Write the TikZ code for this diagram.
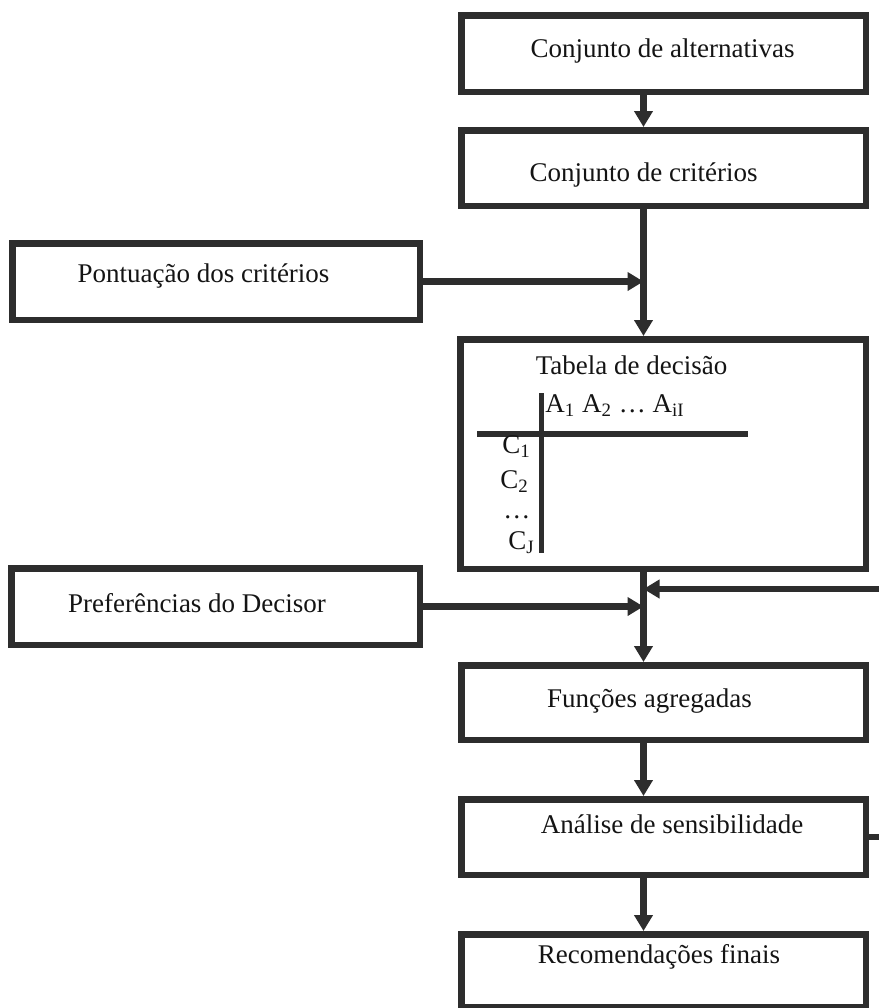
\documentclass[tikz,border=0pt]{standalone}
\usepackage{fontspec}
\setmainfont{Liberation Serif}
\usetikzlibrary{arrows.meta}
\definecolor{ink}{RGB}{45,45,45}
\definecolor{txtc}{RGB}{20,20,20}
\begin{document}
\begin{tikzpicture}[x=0.5pt,y=-0.5pt,
  box/.style={draw=ink, line width=3.25pt, inner sep=0pt},
  flow/.style={draw=ink, line width=3.25pt, -{Triangle[length=8pt,width=9pt]}},
  tabline/.style={draw=ink, line width=2.75pt},
  lbl/.style={inner sep=0pt, text=txtc, font=\fontsize{13.5}{16}\selectfont},
]
\useasboundingbox (0,0) rectangle (879,1008);
\fill[white] (0,0) rectangle (879,1008);

% main column of steps
\node[box, minimum width=202.25pt, minimum height=38.25pt] (alt)  at (663.5,53.5)  {};
\node[box, minimum width=202.25pt, minimum height=37.75pt] (crit) at (663.5,168)   {};
\node[box, minimum width=202.75pt, minimum height=114.75pt] (tab) at (663,454)     {};
\node[box, minimum width=202.25pt, minimum height=37.25pt] (func) at (663.5,702.5) {};
\node[box, minimum width=202.25pt, minimum height=37.75pt] (ana)  at (663.5,837)   {};
\node[box, minimum width=202.25pt, minimum height=36.25pt] (rec)  at (663.5,970.5) {};

% side inputs
\node[box, minimum width=203.75pt, minimum height=38.25pt] (pont) at (216,281.5)   {};
\node[box, minimum width=204.25pt, minimum height=38.25pt] (pref) at (215.5,606.5) {};

% box captions
\node[lbl, anchor=base] (alt-t)  at (662.5,57)  {Conjunto de alternativas};
\node[lbl, anchor=base] (crit-t) at (643.5,181) {Conjunto de critérios};
\node[lbl, anchor=base] (pont-t) at (203.5,282) {Pontuação dos critérios};
\node[lbl, anchor=base] (tab-t)  at (631.5,374) {Tabela de decisão};
\node[lbl, anchor=base] (pref-t) at (197,612)   {Preferências do Decisor};
\node[lbl, anchor=base] (func-t) at (649.5,707) {Funções agregadas};
\node[lbl, anchor=base] (ana-t)  at (672,833)   {Análise de sensibilidade};
\node[lbl, anchor=base] (rec-t)  at (659,963)   {Recomendações finais};

% decision table inside its box
\coordinate (vtop) at (541.7,393);
\coordinate (vbot) at (541.7,553);
\coordinate (hl)   at (477,434);
\coordinate (hr)   at (748,434);
\draw[tabline] (vtop) -- (vbot);
\draw[tabline] (hl) -- (hr);
\node[lbl, anchor=base west] (ahead) at (545,412) {A\textsubscript{1} A\textsubscript{2} … A\textsubscript{iI}};
\node[lbl, anchor=base west] (c1) at (502,453) {C\textsubscript{1}};
\node[lbl, anchor=base west] (c2) at (500,488) {C\textsubscript{2}};
\node[lbl, anchor=base west] (cd) at (503,518) {…};
\node[lbl, anchor=base west] (cj) at (508,549) {C\textsubscript{J}};

% flow spine and joins
\coordinate (spine) at (643.5,0);
\coordinate (fbturn) at (905,589);
\draw[flow] (alt.south -| spine) -- (crit.north -| spine);
\draw[flow] (crit.south -| spine) -- (tab.north -| spine);
\draw[flow] (pont.east) -- (pont.east -| spine);
\draw[flow] (tab.south -| spine) -- (func.north -| spine);
\draw[flow] (pref.east) -- (pref.east -| spine);
\draw[flow] (ana.east) -| (fbturn) -- (fbturn -| spine);
\draw[flow] (func.south -| spine) -- (ana.north -| spine);
\draw[flow] (ana.south -| spine) -- (rec.north -| spine);
\end{tikzpicture}
\end{document}
